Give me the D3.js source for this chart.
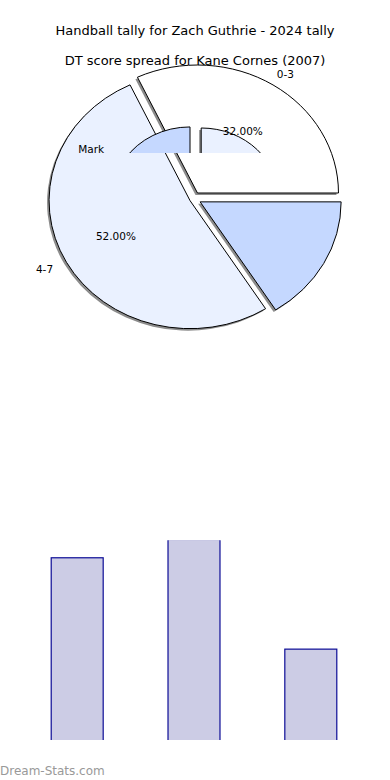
<!DOCTYPE html>
<html>
<head>
<meta charset="utf-8">
<script src="https://cdn.jsdelivr.net/npm/d3@7"></script>
<style>
  body { margin: 0; background: #fff; }
  svg { display: block; font-family: "DejaVu Sans", sans-serif; }
</style>
</head>
<body>
<div id="chart"></div>
<script>
// pie data
var pieLabels = ["0-3", "4-7", ""];
var pieValues = [32, 52, 16];
var piePctShown = [true, true, false];

// second (partial) pie drawn on top
var innerLabels = ["", "", "Mark"];
var innerValues = [32, 52, 16];

// bar data
var barCats = ["A", "B", "C"];
var barValues = [10, 11, 5];
var barMax = 11;

var W = 390, H = 780;
var svg = d3.select("#chart").append("svg")
    .attr("width", W)
    .attr("height", H);

var defs = svg.append("defs");

// titles
svg.append("text")
    .attr("x", 195).attr("y", 35)
    .attr("text-anchor", "middle")
    .style("font-size", "13px")
    .text("Handball tally for Zach Guthrie - 2024 tally");
svg.append("text")
    .attr("x", 195).attr("y", 65)
    .attr("text-anchor", "middle")
    .style("font-size", "13px")
    .text("DT score spread for Kane Cornes (2007)");

var sliceColors = ["#ffffff", "#eaf1ff", "#c5d8ff"];

// draws an elliptical, exploded pie with shadows
function drawPie(g, values, opts) {
    var pie = d3.pie().sort(null)
        .startAngle(opts.start)
        .endAngle(opts.start - 2 * Math.PI); // counter clockwise
    var arcs = pie(values);
    var arc = d3.arc().innerRadius(0).outerRadius(opts.rx);
    var sy = opts.ry / opts.rx;

    arcs.forEach(function (d, i) {
        var mid = (d.startAngle + d.endAngle) / 2;
        var ex = opts.explode[i];
        d.cx = opts.cx + Math.sin(mid) * ex;
        d.cy = opts.cy - Math.cos(mid) * ex;
        d.mid = mid;
    });

    // shadows
    g.selectAll("path.shadow").data(arcs).enter()
        .append("path")
        .attr("class", "shadow")
        .attr("transform", function (d) {
            return "translate(" + (d.cx - 2) + "," + (d.cy + 2) + ") scale(1," + sy + ")";
        })
        .attr("d", arc)
        .attr("fill", "#8c8c8c");

    g.selectAll("path.slice").data(arcs).enter()
        .append("path")
        .attr("class", "slice")
        .attr("transform", function (d) {
            return "translate(" + d.cx + "," + d.cy + ") scale(1," + sy + ")";
        })
        .attr("d", arc)
        .attr("fill", function (d, i) { return sliceColors[i]; })
        .attr("stroke", "#000")
        .attr("stroke-width", 1)
        .attr("vector-effect", "non-scaling-stroke");
    return arcs;
}

// main pie
var mainG = svg.append("g");
var mainOpts = { cx: 194, cy: 198.5, rx: 141, ry: 128, start: Math.PI / 2, explode: [6.5, 4.5, 7] };
var mainArcs = drawPie(mainG, pieValues, mainOpts);

// inner pie, only its top part is drawn
defs.append("clipPath").attr("id", "innerClip")
    .append("rect").attr("x", 0).attr("y", 0).attr("width", W).attr("height", 153);

var innerG = svg.append("g").attr("clip-path", "url(#innerClip)");
var innerOpts = { cx: 190.2, cy: 196.3, rx: 77, ry: 69, explode: [0, 11, 0.4] };
// start angle in d3 terms (clockwise from 12 o'clock)
innerOpts.start = Math.PI / 2 - 147.6 / 180 * Math.PI;
var innerArcs = drawPie(innerG, innerValues, innerOpts);

// labels on top of both pies
var total = d3.sum(pieValues);
var labelG = svg.append("g");
labelG.selectAll("text.lbl").data(mainArcs).enter()
    .append("text")
    .attr("class", "lbl")
    .attr("x", function (d) { return mainOpts.cx + Math.sin(d.mid) * mainOpts.rx * 1.21; })
    .attr("y", function (d) { return mainOpts.cy - Math.cos(d.mid) * mainOpts.ry * 1.15 + 4; })
    .attr("text-anchor", "middle")
    .style("font-size", "10.5px")
    .text(function (d, i) { return pieLabels[i]; });

labelG.selectAll("text.pct").data(mainArcs).enter()
    .append("text")
    .attr("class", "pct")
    .attr("x", function (d) { return d.cx + Math.sin(d.mid) * mainOpts.rx * 0.6; })
    .attr("y", function (d) { return d.cy - Math.cos(d.mid) * mainOpts.ry * 0.57 + 4; })
    .attr("text-anchor", "middle")
    .style("font-size", "10.5px")
    .text(function (d, i) {
        return piePctShown[i] ? (d.data / total * 100).toFixed(2) + "%" : "";
    });

labelG.selectAll("text.inner").data(innerArcs).enter()
    .append("text")
    .attr("class", "inner")
    .attr("x", function (d) { return innerOpts.cx + Math.sin(d.mid) * innerOpts.rx * 2.67; })
    .attr("y", function (d) { return innerOpts.cy - Math.cos(d.mid) * innerOpts.ry * 0.78 + 4; })
    .attr("text-anchor", "middle")
    .style("font-size", "10.5px")
    .text(function (d, i) { return innerLabels[i]; });

// bar chart
var x = d3.scaleBand()
    .domain(barCats)
    .range([18, 369])
    .paddingInner(0.555)
    .paddingOuter(0.28);
var y = d3.scaleLinear()
    .domain([0, barMax])
    .range([740, 539]);

defs.append("clipPath").attr("id", "barClip")
    .append("rect").attr("x", 0).attr("y", 540.2).attr("width", W).attr("height", 199.8);

svg.append("g")
    .attr("clip-path", "url(#barClip)")
    .selectAll("rect").data(barValues).enter()
    .append("rect")
    .attr("x", function (d, i) { return x(barCats[i]) + 0.5; })
    .attr("y", function (d) { return y(d) + 0.5; })
    .attr("width", x.bandwidth())
    .attr("height", function (d) { return 760 - y(d); })
    .attr("fill", "#ccccE5")
    .attr("stroke", "#0c0c96")
    .attr("stroke-width", 1.2);

// watermark
svg.append("text")
    .attr("x", 0).attr("y", 775)
    .style("font-size", "12px")
    .attr("fill", "#999")
    .text("Dream-Stats.com");
</script>
</body>
</html>
